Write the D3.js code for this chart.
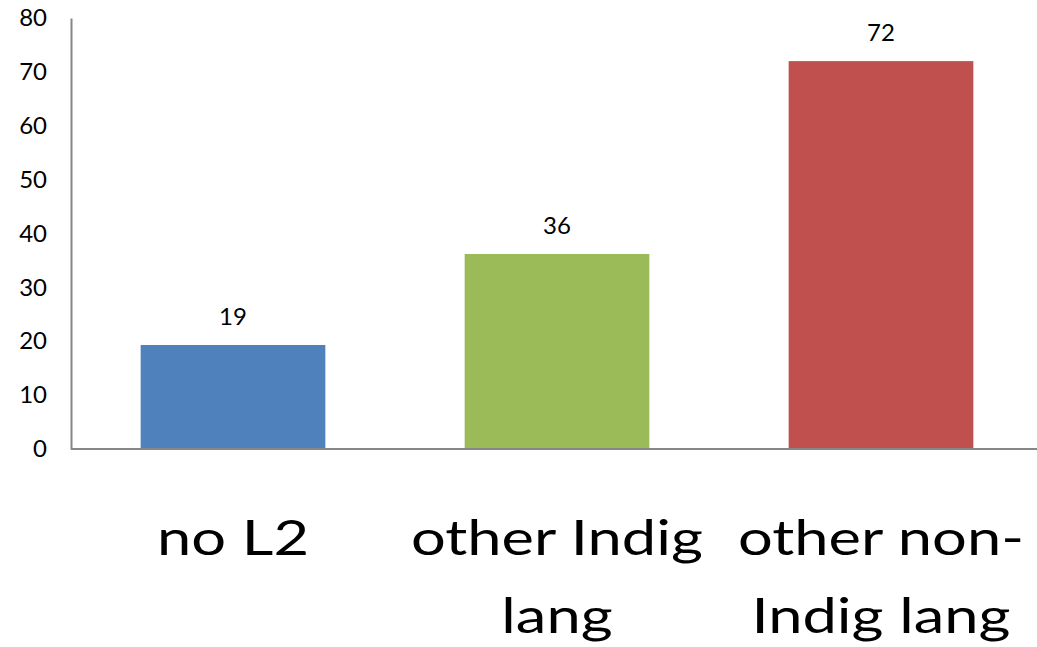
<!DOCTYPE html>
<html><head><meta charset="utf-8">
<script src="https://cdn.jsdelivr.net/npm/d3@7"></script>
<style>html,body{margin:0;padding:0;background:#fff;}svg{display:block;}</style>
</head><body>
<script>
const categories = ["no L2", "other Indig lang", "other non-Indig lang"];
const categoryLines = [["no L2"], ["other Indig", "lang"], ["other non-", "Indig lang"]];
const values = [19.3, 36.2, 72.0];
const valueLabels = ["19", "36", "72"];
const colors = ["#4F81BD", "#9BBB59", "#C0504D"];
const yTicks = [0, 10, 20, 30, 40, 50, 60, 70, 80];

const W = 1037, H = 647;
const font = "Lato, 'Open Sans', sans-serif";
const svg = d3.select("body").append("svg").attr("width", W).attr("height", H);

const x = d3.scaleBand().domain(categories).range([71, 1043]).paddingInner(0.43).paddingOuter(0.215);
const y = d3.scaleLinear().domain([0, 80]).range([449, 18]);

// bars
svg.selectAll("rect.bar").data(categories).join("rect")
  .attr("x", d => x(d)).attr("width", x.bandwidth())
  .attr("y", (d, i) => y(values[i])).attr("height", (d, i) => y(0) - y(values[i]))
  .attr("fill", (d, i) => colors[i]);

// y axis
const yAxis = d3.axisLeft(y).tickValues(yTicks).tickSize(0).tickPadding(24);
const gy = svg.append("g").attr("transform", "translate(71,0)").call(yAxis);
gy.select(".domain").attr("stroke", "#868686").attr("stroke-width", 2);
gy.selectAll("text").attr("font-family", font).attr("font-size", 24).attr("fill", "#000");

// x axis line
const xAxis = d3.axisBottom(x).tickSize(0).tickFormat("");
const gx = svg.append("g").attr("transform", "translate(0,449)").call(xAxis);
gx.select(".domain").attr("stroke", "#868686").attr("stroke-width", 2).attr("d", "M71,0H1043");

// value labels
svg.selectAll("text.val").data(categories).join("text")
  .attr("x", d => x(d) + x.bandwidth() / 2)
  .attr("y", (d, i) => y(values[i]) - 20)
  .attr("text-anchor", "middle").attr("font-family", font).attr("font-size", 24).attr("fill", "#000")
  .text((d, i) => valueLabels[i]);

// category labels (horizontally stretched to match reference glyph widths)
categories.forEach((c, i) => {
  const cx = x(c) + x.bandwidth() / 2;
  const t = svg.append("text").attr("text-anchor", "middle")
    .attr("transform", `translate(${cx},0) scale(1.28,1)`)
    .attr("font-family", font).attr("font-size", 48).attr("fill", "#000");
  categoryLines[i].forEach((ln, j) => {
    t.append("tspan").attr("x", 0).attr("y", 555 + j * 78).text(ln);
  });
});
</script>
</body></html>
